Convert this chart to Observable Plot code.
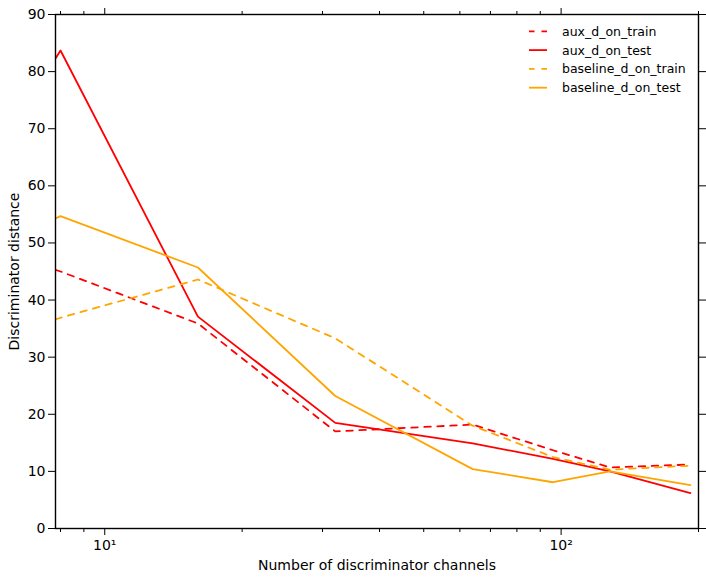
<!DOCTYPE html>
<html>
<head>
<meta charset="utf-8">
<script src="https://cdn.jsdelivr.net/npm/d3@7"></script>
<script src="https://cdn.jsdelivr.net/npm/@observablehq/plot@0.6"></script>
<style>
  body { margin: 0; background: white; }
  #wrap { position: relative; width: 706px; height: 581px; font-family: "DejaVu Sans", sans-serif; }
  #legend { position: absolute; left: 0; top: 0; pointer-events: none; }
</style>
</head>
<body>
<div id="wrap"></div>
<script>
// ---- data ----
const channels   = [7.8, 8, 16, 32, 64, 96, 128, 192];
const auxTrain   = [45.3, 45.0, 35.9, 17.0, 18.2, 13.7, 10.7, 11.2];
const auxTest    = [82.3, 83.7, 37.1, 18.5, 14.9, 12.2, 10.0, 6.2];
const baseTrain  = [36.6, 36.9, 43.6, 33.3, 18.0, 12.5, 10.3, 11.0];
const baseTest   = [54.3, 54.7, 45.7, 23.2, 10.4, 8.1, 10.0, 7.6];
const seriesNames = ["aux_d_on_train", "aux_d_on_test", "baseline_d_on_train", "baseline_d_on_test"];
const seriesValues = [auxTrain, auxTest, baseTrain, baseTest];
const seriesColors = ["#ff0000", "#ff0000", "#ffa500", "#ffa500"];
const seriesDash = ["6.5,6.5", null, "6.5,6.5", null];
const yTicks = [0, 10, 20, 30, 40, 50, 60, 70, 80, 90];
const xMajor = [10, 100];
const xMinor = [8, 9, 20, 30, 40, 50, 60, 70, 80, 90, 200];
const supers = {1: "\u00b9", 2: "\u00b2"};

const rows = seriesNames.flatMap((name, s) =>
  channels.map((c, i) => ({x: c, y: seriesValues[s][i], name})));

const noText = () => "";

const chart = Plot.plot({
  width: 706,
  height: 581,
  marginLeft: 55,
  marginRight: 8,
  marginTop: 14,
  marginBottom: 53,
  style: {fontFamily: "DejaVu Sans", fontSize: "14px", background: "white", color: "black"},
  x: {type: "log", domain: [7.8, 200], label: null},
  y: {domain: [0, 90], label: null},
  marks: [
    ...seriesNames.map((name, s) => Plot.line(rows.filter(r => r.name === name), {
      x: "x", y: "y", stroke: seriesColors[s], strokeWidth: 1.8,
      strokeDasharray: seriesDash[s] ?? undefined, clip: true
    })),
    Plot.frame({stroke: "black", strokeWidth: 1.4}),
    Plot.axisY(yTicks, {anchor: "left", tickSize: 7, tickPadding: 3,
      label: "Discriminator distance", labelAnchor: "center", labelArrow: "none", labelOffset: 46}),
    Plot.axisY(yTicks, {anchor: "right", tickSize: 7, tickFormat: noText, label: null}),
    Plot.axisX(xMajor, {anchor: "bottom", tickSize: 7, tickPadding: 5,
      tickFormat: d => "10" + supers[Math.round(Math.log10(d))],
      label: "Number of discriminator channels", labelAnchor: "center", labelArrow: "none", labelOffset: 41}),
    Plot.axisX(xMinor, {anchor: "bottom", tickSize: 4, tickFormat: noText, label: null}),
    Plot.axisX(xMajor, {anchor: "top", tickSize: 7, tickFormat: noText, label: null}),
    Plot.axisX(xMinor, {anchor: "top", tickSize: 4, tickFormat: noText, label: null})
  ]
});

const wrap = document.getElementById("wrap");
wrap.appendChild(chart);

// ---- legend (inside the plot, upper right) ----
const ns = "http://www.w3.org/2000/svg";
const leg = document.createElementNS(ns, "svg");
leg.setAttribute("id", "legend");
leg.setAttribute("width", 706);
leg.setAttribute("height", 581);
const lx0 = 529, lx1 = 547, tx = 562, ly0 = 31.3, dyRow = 18.8;
seriesNames.forEach((name, s) => {
  const y = ly0 + s * dyRow;
  const ln = document.createElementNS(ns, "line");
  ln.setAttribute("x1", lx0); ln.setAttribute("x2", lx1);
  ln.setAttribute("y1", y); ln.setAttribute("y2", y);
  ln.setAttribute("stroke", seriesColors[s]);
  ln.setAttribute("stroke-width", 1.8);
  if (seriesDash[s]) ln.setAttribute("stroke-dasharray", "5.5,7");
  leg.appendChild(ln);
  const t = document.createElementNS(ns, "text");
  t.setAttribute("x", tx); t.setAttribute("y", y);
  t.setAttribute("dominant-baseline", "central");
  t.setAttribute("font-family", "DejaVu Sans");
  t.setAttribute("font-size", "12.5px");
  t.setAttribute("fill", "black");
  t.textContent = name;
  leg.appendChild(t);
});
wrap.appendChild(leg);
</script>
</body>
</html>
